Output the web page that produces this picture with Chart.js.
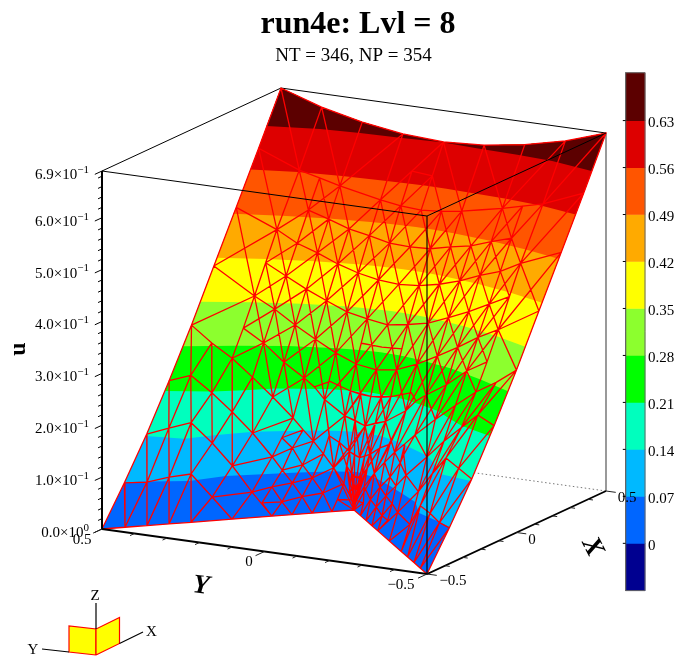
<!DOCTYPE html>
<html>
<head>
<meta charset="utf-8">
<title>run4e: Lvl = 8</title>
<script src="https://cdn.jsdelivr.net/npm/chart.js@4/dist/chart.umd.min.js"></script>
<style>
  html, body { margin: 0; padding: 0; background: #fff; }
  canvas { display: block; }
</style>
</head>
<body>
<canvas id="chart" width="676" height="657"></canvas>
<script>
// all (a, b) pairs are the fraction across the box: a = X + 0.5, b = Y + 0.5
const bandLevels = [0, 0.07, 0.14, 0.21, 0.28, 0.35, 0.42, 0.49, 0.56, 0.63];
const bandColors = ['#0066ff', '#00b9ff', '#00ffbe', '#00ff00', '#8cff2e', '#ffff00', '#ffaa00', '#ff5500', '#dd0000', '#5c0000'];
const barBottom = -0.0705;
const barTop = 0.7013;
const barLow = '#000090';

// level lines, read for Y >= 0 (the surface is symmetric in Y)
const levelA07 = [.127, .161, .19, .22, .314, .378, .44, .467, .494, .507, .52];
const levelB07 = [1, .95, .902, .853, .792, .715, .639, .601, .564, .53, .5];
const levelA14 = [.245, .27, .345, .424, .472, .516, .544, .5575];
const levelB14 = [1, .895, .837, .767, .694, .625, .5625, .5];
const levelA21 = [.351, .407, .46, .515, .576, .593, .6];
const levelB21 = [1, .884, .815, .75, .625, .5625, .5];
const levelA28 = [.4526, .526, .589, .632, .6445, .649];
const levelB28 = [1, .875, .75, .625, .5625, .5];
const levelA35 = [.549, .613, .662, .696, .7038, .7086];
const levelB35 = [1, .875, .75, .625, .5625, .5];
const levelA42 = [.6425, .6945, .735, .764, .7725, .775];
const levelB42 = [1, .875, .75, .625, .5625, .5];
const levelA49 = [.734, .779, .8125, .836, .844, .846];
const levelB49 = [1, .875, .75, .625, .5625, .5];
const levelA56 = [.83, .868, .888, .898, .903, .905];
const levelB56 = [1, .875, .75, .625, .5625, .5];
const levelA63 = [.919, .959, .973, .981, .992];
const levelB63 = [1, .857, .742, .617, .5];
const levelAs = [null, levelA07, levelA14, levelA21, levelA28, levelA35, levelA42, levelA49, levelA56, levelA63];
const levelBs = [null, levelB07, levelB14, levelB21, levelB28, levelB35, levelB42, levelB49, levelB56, levelB63];

// boundary of the surface
const edgeA = [0, .125, .25, .375, .5, .625, .75, .875, 1];
const edgeU = [0, .069, .143, .226, .313, .407, .5, .594, .69];
const topB = [1, .875, .75, .625, .5];
const topU = [.69, .664, .646, .634, .6295];
const notchA = [.0456, .0893, .133, .1766, .258, .337, .377, .417, .456, .5];

// mesh nodes on the 1/16 lattice, a = 8/16 .. 16/16, one row per b
const uRow15 = [.284];
const uRow14 = [.26, .308, .36, .414, .468, null, .5625, null, .664];
const uRow13 = [.229, .285, .34, .394, .447, .501, .553];
const uRow12 = [.196, .253, .315, .374, .434, .489, .543, null, .646];
const uRow11 = [.161, .228, .293, .357, .418, .4755, .535];
const uRow10 = [.122, .192, .272, .341, .406, .468, .527, null, .634];
const uRow9 = [.076, .166, .256, .333, .398, .459, .521, .578];
const uRow8 = [0, .152, .25, .327, .395, .457, .518, .574, .6295];
const latticeRows = { 15: uRow15, 14: uRow14, 13: uRow13, 12: uRow12, 11: uRow11, 10: uRow10, 9: uRow9, 8: uRow8 };

// mesh nodes off the lattice
const freeNames = ['A1', 'A2', 'A3', 'B1', 'B2', 'B3', 'C1', 'C2', 'C3', 'G1', 'G2', 'G3', 'H1', 'H2', 'I1', 'I2', 'J1', 'J2', 'K1', 'M', 'O', 'N', 'P', 'Q', 'U', 'W', 'L3', 'S1', 'Z1', 'Z2', 'Z3', 'Y1', 'Y2', 'Y3', 'X1', 'X2', 'X3', 'F1', 'R1', 'R2', 'R3', 'V1', 'V2', 'T1', 'T2', 'T3', 'T4', 'T5', 'T6', 'T7', 'T8', 'P1', 'P2', 'P3'];
const freeA = [.1605, .275, .39, .196, .302, .403, .23, .323, .411, .26, .34, .42, .337, .417, .417, .457, .417, .456, .459, .377, .417, .457, .337, .377, .4375, .5, .5, .5625, .53125, .53125, .5, .5156, .5156, .5, .5078, .5078, .5, .48, .59375, .59375, .59375, .65625, .65625, .53125, .5625, .53125, .59375, .5156, .53125, .5078, .5156, .504, .504, .5];
const freeB = [.95, .9458, .9415, .9014, .892, .884, .8526, .8388, .8257, .8044, .7863, .768, .724, .706, .644, .6345, .614, .604, .573, .685, .675, .666, .6935, .654, .6875, .65625, .594, .65625, .5, .53125, .53125, .5, .5156, .5156, .5, .5078, .5078, .54, .5, .5625, .625, .5625, .5, .5625, .53125, .59375, .53125, .53125, .5156, .5156, .5078, .5, .504, .504];
const freeU = [.069, .155, .239, .077, .166, .208, .082, .128, .175, .037, .086, .138, .041, .098, .053, .082, .029, .06, .033, .048, .075, .112, .023, .022, .133, .141, .1, .2136, .096, .105, .048, .06, .066, .03, .038, .042, .019, .02, .204, .209, .222, .291, .289, .12, .16, .13, .205, .08, .1, .05, .06, .024, .027, .012];

// mesh lines, each a run of connected nodes (i_j = lattice node)
const meshPaths = [
  'E0 E1 E2 E3 E4 E5 E6 E7 E8 16_14 16_12 16_10 16_8', 'E0 D1 D2 D3 D4 D5 D6 D7 D8 D9 8_8',
  'E1 D1', 'E2 A1 D2', 'E3 A2 B1 D3', 'E4 A3 B2 C1 D4', '8_15 B3 C2', '8_14 C3 G2', '8_13 G3',
  'D1 A1 A2 A3 8_15', 'D2 B1 B2 B3 8_14 9_14 10_14 11_14 12_14 14_14 16_14',
  'D3 C1 C2 C3 8_13 9_13 10_13 11_13 12_13 13_13 14_13',
  'D4 G1 G2 G3 8_12 9_12 10_12 11_12 12_12 13_12 14_12 16_12',
  'D5 H1 H2 U 8_11 9_11 10_11 11_11 12_11 13_11',
  'D6 Q I1 I2 8_10 9_10 10_10 11_10 12_10 13_10 14_10 16_10', 'D7 J1 J2 L3',
  'D8 K1 8_9 9_9 10_9 11_9 12_9 13_9 14_9',
  'E1 A1 B1 C1', 'E2 A2 B2', 'E3 A3', 'G1 H1 M I1 J2 8_9', 'G2 H2 N 8_10', 'G3 8_11', 'P Q J1 K1', 'O I2 L3', 'U W',
  'A3 B3 C3 G3 H2 O I1 J1 D8', 'B2 C2 G2 H1 D6', 'C1 G1 D5', 'U N I2 J2 K1 D9', 'P M O N W', 'M Q D7', 'P D6',
  'E4 8_15 8_14 8_13 8_12 8_11 W 8_10 L3 8_9 8_8',
  '9_14 9_13 9_12 9_11 S1 9_10 9_9 9_8', 'E5 10_14 10_13 10_12 10_11 10_10 10_9 10_8',
  '11_14 11_13 11_12 11_11 11_10 11_9 11_8', 'E6 12_14 12_13 12_12 12_11 12_10 12_9 12_8',
  '13_13 13_12 13_11 13_10 13_9 13_8', 'E7 14_14 14_13 14_12 14_11 14_10 14_9 14_8', '14_8 15_8 16_8',
  'E4 10_14 11_13 12_12 13_11 14_10 15_9 16_8', 'E5 12_14 13_13 14_12 16_10',
  '8_14 9_13 10_12 11_11 12_10 13_9 14_8', '8_12 9_11 10_10 11_9 12_8', '8_10 9_9 10_8',
  '9_14 10_13 11_12 12_11 13_10 14_9 15_8', '11_14 12_13 13_12', '9_12 10_11 11_10 12_9 13_8', '9_10 10_9 11_8', '8_9 9_8',
  'E8 14_14 13_13 12_12 11_11 10_10 9_9', 'E7 12_14 11_13 10_12 9_11 8_10', 'E6 10_14 9_13 8_12',
  '16_14 14_12 13_11 12_10 11_9 10_8', '14_13 13_12 12_11 11_10 10_9 9_8', '11_12 10_11 9_10 8_9', '11_14 10_13 9_12 8_11',
  '14_10 13_9 12_8', '13_10 12_9 11_8', '14_9 13_8',
  '8_8 P1 X1 Y1 Z1 9_8 R1 10_8', '8_8 P2 X2 Y2 Z2 9_9', '8_8 P3 X3 Y3 Z3 8_9', 'Z1 Z2 Z3', 'Y1 Y2 Y3', 'X1 X2 X3', 'P1 P2 P3',
  'D9 F1 Z3', 'F1 8_8', 'Z3 K1', 'Z2 8_9', 'Z2 9_8', 'R1 R2 R3 S1', 'V1 V2',
  'P2 T7 T5 T1 9_9', 'P2 T8 T6 T2 R2', 'Z3 T5 Z2', 'Y3 T7 Y2 T8 Y1', 'Z2 T6 Z1', 'T1 Z2', 'T2 Z2', 'T2 Z1', 'T1 8_9', 'T1 T3 9_10',
  'T3 8_9', 'T3 L3', 'T2 9_9', 'T2 9_8', 'T4 T2', 'T4 R1', 'T4 R2', '9_9 T4', 'T5 X3', 'X1 Y2', 'X2 Y3', 'X3 F1', 'Y2 T5', 'Y2 T6'
];
// these lines exist on the Y > 0 side only
const meshPathsOneSide = ['15_9 15_8', '14_9 15_9'];

// axis ticks
const uTicks = [0, .1, .2, .3, .4, .5, .6, .69];
const uTickMantissa = ['0.0', '1.0', '2.0', '3.0', '4.0', '5.0', '6.0', '6.9'];
const uTickPower = ['0', '\u22121', '\u22121', '\u22121', '\u22121', '\u22121', '\u22121', '\u22121'];
const uMinor = [.02, .04, .06, .08, .12, .14, .16, .18, .22, .24, .26, .28, .32, .34, .36, .38, .42, .44, .46, .48, .52, .54, .56, .58, .62, .64, .66, .68];
const sideTicks = [0, .5, 1];
const sideMinor = [.1, .2, .3, .4, .6, .7, .8, .9];
const barTicks = [0, .07, .14, .21, .28, .35, .42, .49, .56, .63];
const barTickText = ['0', '0.07', '0.14', '0.21', '0.28', '0.35', '0.42', '0.49', '0.56', '0.63'];

// corner triad, in units of one face side
const triadFaceA = [[0, 0, 0], [0, 1, 0], [0, 1, 1], [0, 0, 1], [0, 0, 0]];
const triadFaceB = [[0, 0, 0], [1, 0, 0], [1, 0, 1], [0, 0, 1], [0, 0, 0]];
const triadAxes = [[[0, 0, 1], [0, 0, 2]], [[1, 0, 0], [2, 0, 0]], [[0, 1, 0], [0, 2, 0]]];

// orthographic view of the box
const view = { x0: 427, y0: 574, ax: 179, ay: -83, bx: -325, by: -45, u: -518.8 };
const triadView = { x0: 96, y0: 655, ax: 23.5, ay: -11.5, bx: -27, by: -3, u: -26 };

function project(a, b, u, v = view) {
  return { x: v.x0 + a * v.ax + b * v.bx, y: v.y0 + a * v.ay + b * v.by + u * v.u };
}

// node lookup
const freeNodes = {};
freeNames.forEach((n, i) => { freeNodes[n] = [freeA[i], freeB[i], freeU[i]]; });
edgeA.forEach((a, i) => { freeNodes['E' + i] = [a, 1, edgeU[i]]; });
notchA.forEach((t, i) => { freeNodes['D' + (i + 1)] = [t, 1 - t, 0]; });

function node(key) {
  const m = key.match(/^(\d+)_(\d+)$/);
  if (!m) return freeNodes[key];
  const i = +m[1], j = +m[2];
  return [i / 16, j / 16, latticeRows[j][i - 8]];
}

const gap = { x: NaN, y: NaN };

function addPaths(pts, paths, flip) {
  for (const path of paths) {
    for (const key of path.split(' ')) {
      const [a, b, u] = node(key);
      pts.push(project(a, flip ? 1 - b : b, u));
    }
    pts.push(gap);
  }
}

function meshPoints() {
  const pts = [];
  addPaths(pts, meshPaths, false);
  addPaths(pts, meshPaths, true);
  addPaths(pts, meshPathsOneSide, false);
  return pts;
}

function bandPolygon(k) {
  const pts = [];
  if (k === 0) {
    edgeA.forEach((a, i) => pts.push(project(a, 1, edgeU[i])));
    topB.forEach((b, i) => pts.push(project(1, b, topU[i])));
    for (let i = topB.length - 2; i >= 0; i--) pts.push(project(1, 1 - topB[i], topU[i]));
    for (let i = edgeA.length - 1; i >= 0; i--) pts.push(project(edgeA[i], 0, edgeU[i]));
    for (const t of notchA.slice(0, -1)) pts.push(project(t, t, 0));
    pts.push(project(.5, .5, 0));
    for (let i = notchA.length - 2; i >= 0; i--) pts.push(project(notchA[i], 1 - notchA[i], 0));
    return pts;
  }
  const level = bandLevels[k], as = levelAs[k], bs = levelBs[k];
  as.forEach((a, i) => pts.push(project(a, bs[i], level)));
  for (let i = as.length - 2; i >= 0; i--) pts.push(project(as[i], 1 - bs[i], level));
  edgeA.forEach((a, i) => { if (a > as[0]) pts.push(project(a, 0, edgeU[i])); });
  for (let i = 0; i < topB.length; i++) pts.push(project(1, 1 - topB[i], topU[i]));
  for (let i = topB.length - 2; i >= 0; i--) pts.push(project(1, topB[i], topU[i]));
  for (let i = edgeA.length - 1; i >= 0; i--) if (edgeA[i] > as[0]) pts.push(project(edgeA[i], 1, edgeU[i]));
  return pts;
}

function segments(list) {
  const pts = [];
  for (const [p, q] of list) { pts.push(p, q, gap); }
  return pts;
}

const lineSet = (data, color, width, extra = {}) => ({
  type: 'scatter', data, showLine: true, pointRadius: 0, borderColor: color, borderWidth: width, fill: false, ...extra
});

const layers = [];

// back of the box
layers.push(lineSet([project(1, 0, 0), project(1, 1, 0)], '#777', 1, { borderDash: [1.5, 2.5] }));
layers.push(lineSet(segments([
  [project(0, 1, .69), project(1, 1, .69)], [project(1, 1, .69), project(1, 0, .69)]
]), '#000', 1));
layers.push(lineSet([project(1, 0, 0), project(1, 0, .69)], '#808080', 1.6));

// colour bands, lowest first
bandLevels.forEach((lv, k) => {
  layers.push({ type: 'scatter', data: bandPolygon(k), showLine: true, pointRadius: 0, borderWidth: 0, borderColor: 'rgba(0,0,0,0)', backgroundColor: bandColors[k], fill: 'shape' });
});

// mesh
layers.push(lineSet(meshPoints(), '#ff0000', 1.3));

// front of the box
layers.push(lineSet(segments([
  [project(0, 1, .69), project(0, 0, .69)], [project(0, 0, .69), project(1, 0, .69)]
]), '#000', 1));
layers.push(lineSet([project(0, 0, 0), project(0, 0, .69)], 'rgba(0,0,0,0.75)', 1.5));
layers.push(lineSet([project(0, 1, 0), project(0, 1, .69)], '#000', 2));
layers.push(lineSet([project(0, 1, 0), project(0, 0, 0), project(1, 0, 0)], '#000', 1.8));

// ticks
const uTickSegs = uTicks.map(u => [project(0, 1, u), project(-.04, 1, u)]).concat(uMinor.map(u => [project(0, 1, u), project(-.022, 1, u)]));
const yTickSegs = sideTicks.map(b => [project(0, b, 0), project(-.05, b, 0)]).concat(sideMinor.map(b => [project(0, b, 0), project(-.025, b, 0)]));
const xTickSegs = sideTicks.map(a => [project(a, 0, 0), project(a, -.03, 0)]).concat(sideMinor.map(a => [project(a, 0, 0), project(a, -.015, 0)]));
layers.push(lineSet(segments(uTickSegs), '#000', 1));
layers.push(lineSet(segments(yTickSegs.concat(xTickSegs)), '#222', 1));

// triad
[triadFaceA, triadFaceB].forEach(face => {
  layers.push({ type: 'scatter', data: face.map(p => project(p[0], p[1], p[2], triadView)), showLine: true, pointRadius: 0, borderColor: '#ff0000', borderWidth: 1.2, backgroundColor: '#ffff00', fill: 'shape' });
});
layers.push(lineSet(segments(triadAxes.map(s => [project(...s[0], triadView), project(...s[1], triadView)])), '#000', 1.2));

// colour bar
const barEdges = [barBottom].concat(barTicks.slice(0), [barTop]);
const barFills = [barLow].concat(bandColors);
const barX = 635.3;
barFills.forEach((c, i) => {
  layers.push({ type: 'bar', yAxisID: 'barU', data: [{ x: barX, y: [barEdges[i], barEdges[i + 1]] }], backgroundColor: c, barThickness: 19.4, borderWidth: 0, grouped: false });
});
layers.push(lineSet([
  { x: barX - 9.7, y: barBottom }, { x: barX + 9.7, y: barBottom }, { x: barX + 9.7, y: barTop }, { x: barX - 9.7, y: barTop }, { x: barX - 9.7, y: barBottom }
], '#666', 1, { yAxisID: 'barU' }));
layers.push(lineSet(segments(barTicks.map(t => [{ x: barX - 9.7, y: t }, { x: barX - 12.5, y: t }])), '#000', 1, { yAxisID: 'barU' }));

layers.forEach((d, i) => { d.order = layers.length - i; });

const SERIF = '"Liberation Serif", "Times New Roman", serif';

function text(ctx, s, x, y, font, align = 'center', rot = 0) {
  ctx.save();
  ctx.translate(x, y);
  ctx.rotate(rot);
  ctx.font = font;
  ctx.textAlign = align;
  ctx.textBaseline = 'middle';
  ctx.fillStyle = '#000';
  ctx.fillText(s, 0, 0);
  ctx.restore();
}

const chartText = {
  id: 'chartText',
  afterDraw(chart) {
    const { ctx, scales } = chart;
    const px = p => ({ x: scales.x.getPixelForValue(p.x), y: scales.y.getPixelForValue(p.y) });
    text(ctx, 'run4e: Lvl = 8', 358, 25, 'bold 32px ' + SERIF);
    text(ctx, 'NT = 346, NP = 354', 353.5, 56, '19px ' + SERIF);

    // u axis labels
    uTicks.forEach((u, i) => {
      const p = px(project(0, 1, u));
      const right = p.x - 13;
      ctx.font = '11px ' + SERIF;
      const supW = ctx.measureText(uTickPower[i]).width;
      text(ctx, uTickPower[i], right, p.y - 1, '11px ' + SERIF, 'right');
      text(ctx, uTickMantissa[i] + '\u00d710', right - supW, p.y + 4, '15px ' + SERIF, 'right');
    });

    // side axis labels
    const yLabels = ['0.5', '0', '\u22120.5'];
    const yAt = [[82, 540], [249, 562], [401, 585]];
    yAt.forEach((l, i) => text(ctx, yLabels[i], l[0], l[1], '15px ' + SERIF));
    const xLabels = ['\u22120.5', '0', '0.5'];
    const xAt = [[453, 581], [532, 540], [627, 498]];
    xAt.forEach((l, i) => text(ctx, xLabels[i], l[0], l[1], '15px ' + SERIF));

    text(ctx, 'u', 19, 349, 'bold 24px ' + SERIF, 'center', -Math.PI / 2);
    text(ctx, 'Y', 201, 586, 'italic bold 27px ' + SERIF, 'center', 0.12);
    text(ctx, 'X', 592, 547, 'italic bold 27px ' + SERIF, 'center', 1.1);

    // triad letters
    text(ctx, 'Z', 95, 596, '15px ' + SERIF);
    text(ctx, 'X', 151.5, 632, '15px ' + SERIF);
    text(ctx, 'Y', 33, 650, '15px ' + SERIF);

    // colour bar labels
    barTicks.forEach((t, i) => {
      const y = scales.barU.getPixelForValue(t);
      text(ctx, barTickText[i], 648, y + 2.5, '15px ' + SERIF, 'left');
    });
  }
};

new Chart(document.getElementById('chart'), {
  type: 'scatter',
  data: { datasets: layers },
  options: {
    responsive: false,
    animation: false,
    events: [],
    layout: { padding: 0 },
    plugins: { legend: { display: false }, tooltip: { enabled: false } },
    scales: {
      x: { type: 'linear', display: false, offset: false, min: 0, max: 676 },
      y: { type: 'linear', display: false, min: 0, max: 657, reverse: true },
      barU: { type: 'linear', display: false, min: -0.1694, max: 0.8097 }
    }
  },
  plugins: [chartText]
});
</script>
</body>
</html>
